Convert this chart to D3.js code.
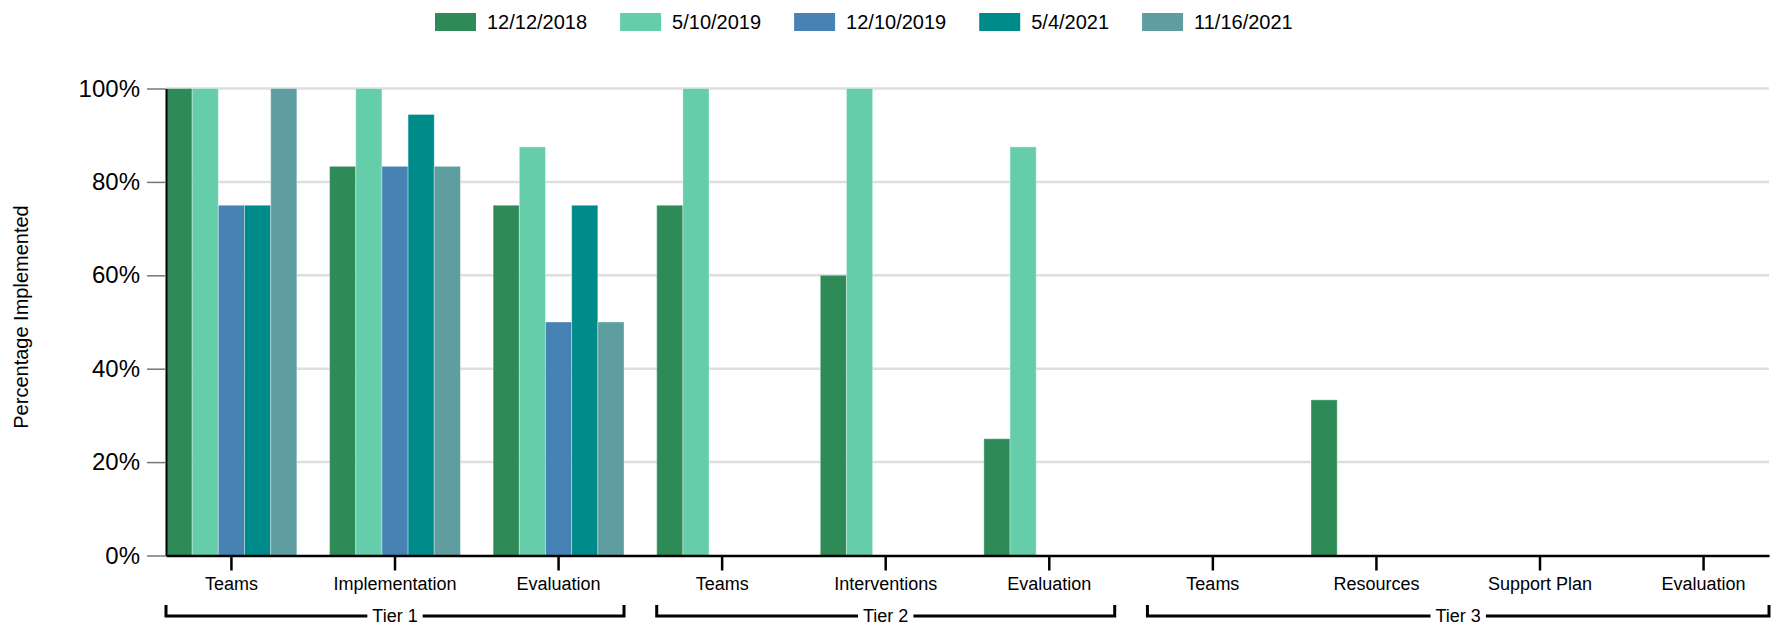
<!DOCTYPE html>
<html>
<head>
<meta charset="utf-8">
<script src="https://cdn.jsdelivr.net/npm/d3@7"></script>
<style>
  body { margin: 0; background: #fff; }
  svg text { font-family: Arial, "Liberation Sans", sans-serif; fill: #000; }
</style>
</head>
<body>
<div id="chart"></div>
<script>
// Data
const categories = ["Teams", "Implementation", "Evaluation", "Teams", "Interventions", "Evaluation",
                    "Teams", "Resources", "Support Plan", "Evaluation"];
const tierNames = ["Tier 1", "Tier 2", "Tier 3"];
const tierOf = [0, 0, 0, 1, 1, 1, 2, 2, 2, 2];
const dates = ["12/12/2018", "5/10/2019", "12/10/2019", "5/4/2021", "11/16/2021"];
const colors = ["#2E8B57", "#66CDAA", "#4682B4", "#008B8B", "#5F9EA0"];

const vals_2018_12 = [100, 83.33, 75, 75, 60, 25, 0, 33.33, 0, 0];
const vals_2019_05 = [100, 100, 87.5, 100, 100, 87.5, 0, 0, 0, 0];
const vals_2019_12 = [75, 83.33, 50, 0, 0, 0, 0, 0, 0, 0];
const vals_2021_05 = [75, 94.44, 75, 0, 0, 0, 0, 0, 0, 0];
const vals_2021_11 = [100, 83.33, 50, 0, 0, 0, 0, 0, 0, 0];
const series = [vals_2018_12, vals_2019_05, vals_2019_12, vals_2021_05, vals_2021_11];

const yTicks = [0, 20, 40, 60, 80, 100];

// Parameters
const w = 1781, h = 626;
const plotLeft = 166, plotRight = 1769, plotTop = 88.5, plotBottom = 555.5;

const svg = d3.select("#chart").append("svg")
  .attr("width", w)
  .attr("height", h);

// Scales
const x0 = d3.scaleBand()
  .domain(d3.range(categories.length))
  .range([plotLeft, plotRight])
  .paddingInner(0.2)
  .paddingOuter(0);

const x1 = d3.scaleBand()
  .domain(d3.range(dates.length))
  .range([0, x0.bandwidth()]);

const y = d3.scaleLinear()
  .domain([0, 100])
  .range([plotBottom, plotTop]);

// Gridlines
svg.append("g")
  .selectAll("line")
  .data(yTicks.filter(d => d > 0))
  .enter()
  .append("line")
  .attr("x1", plotLeft)
  .attr("x2", plotRight)
  .attr("y1", d => y(d))
  .attr("y2", d => y(d))
  .attr("stroke", "#dedede")
  .attr("stroke-width", 2.5);

// Bars
const groups = svg.append("g")
  .selectAll("g")
  .data(categories.map((c, i) => i))
  .enter()
  .append("g")
  .attr("transform", i => "translate(" + x0(i) + ",0)");

groups.selectAll("rect")
  .data(i => series.map((s, k) => ({ k: k, v: s[i] })))
  .enter()
  .append("rect")
  .attr("x", d => x1(d.k))
  .attr("y", d => y(d.v))
  .attr("width", x1.bandwidth())
  .attr("height", d => plotBottom - y(d.v))
  .attr("fill", d => colors[d.k])
  .attr("stroke", d => d.v > 0 ? "#fff" : "none")
  .attr("stroke-opacity", 0.35)
  .attr("stroke-width", 1);

// Y axis
const y_axis = d3.axisLeft(y)
  .tickValues(yTicks)
  .tickFormat(d => d + "%")
  .tickSize(19)
  .tickSizeOuter(0)
  .tickPadding(7);

const gy = svg.append("g")
  .attr("transform", "translate(" + plotLeft + ",0)")
  .call(y_axis);
gy.select(".domain").attr("stroke", "#000").attr("stroke-width", 2);
gy.selectAll(".tick line").attr("stroke", "#777").attr("stroke-width", 1.5);
gy.selectAll(".tick text").style("font-size", "24px").attr("fill", "#000");

// X axis
const x_axis = d3.axisBottom(x0)
  .tickFormat(i => categories[i])
  .tickSize(15)
  .tickSizeOuter(0)
  .tickPadding(7);

const gx = svg.append("g")
  .attr("transform", "translate(0," + plotBottom + ")")
  .call(x_axis);
gx.select(".domain").attr("stroke", "#000").attr("stroke-width", 2.5);
gx.selectAll(".tick line").attr("stroke", "#000").attr("stroke-width", 2.5);
gx.selectAll(".tick text").style("font-size", "18px").attr("fill", "#000");

// Y label
svg.append("text")
  .attr("transform", "translate(28,317) rotate(-90)")
  .attr("text-anchor", "middle")
  .style("font-size", "20px")
  .text("Percentage Implemented");

// Tier brackets
const bracketY = 616, bracketTop = 605;
tierNames.forEach((name, t) => {
  const idx = tierOf.map((v, i) => v === t ? i : -1).filter(i => i >= 0);
  const xa = x0(idx[0]);
  const xb = x0(idx[idx.length - 1]) + x0.bandwidth();
  const cx = (xa + xb) / 2;
  const g = svg.append("g");
  const label = g.append("text")
    .attr("x", cx)
    .attr("y", 622)
    .attr("text-anchor", "middle")
    .style("font-size", "18px")
    .text(name);
  const half = label.node().getComputedTextLength() / 2 + 5;
  const path = "M" + xa + "," + bracketTop + "V" + bracketY + "H" + (cx - half) +
               "M" + (cx + half) + "," + bracketY + "H" + xb + "V" + bracketTop;
  g.append("path")
    .attr("d", path)
    .attr("fill", "none")
    .attr("stroke", "#000")
    .attr("stroke-width", 3);
});

// Legend
const legend = svg.append("g").attr("transform", "translate(435,0)");
let lx = 0;
dates.forEach((d, i) => {
  legend.append("rect")
    .attr("x", lx)
    .attr("y", 13)
    .attr("width", 41)
    .attr("height", 18)
    .attr("fill", colors[i]);
  const t = legend.append("text")
    .attr("x", lx + 52)
    .attr("y", 29)
    .style("font-size", "20px")
    .text(d);
  lx += 52 + t.node().getComputedTextLength() + 33;
});
</script>
</body>
</html>
